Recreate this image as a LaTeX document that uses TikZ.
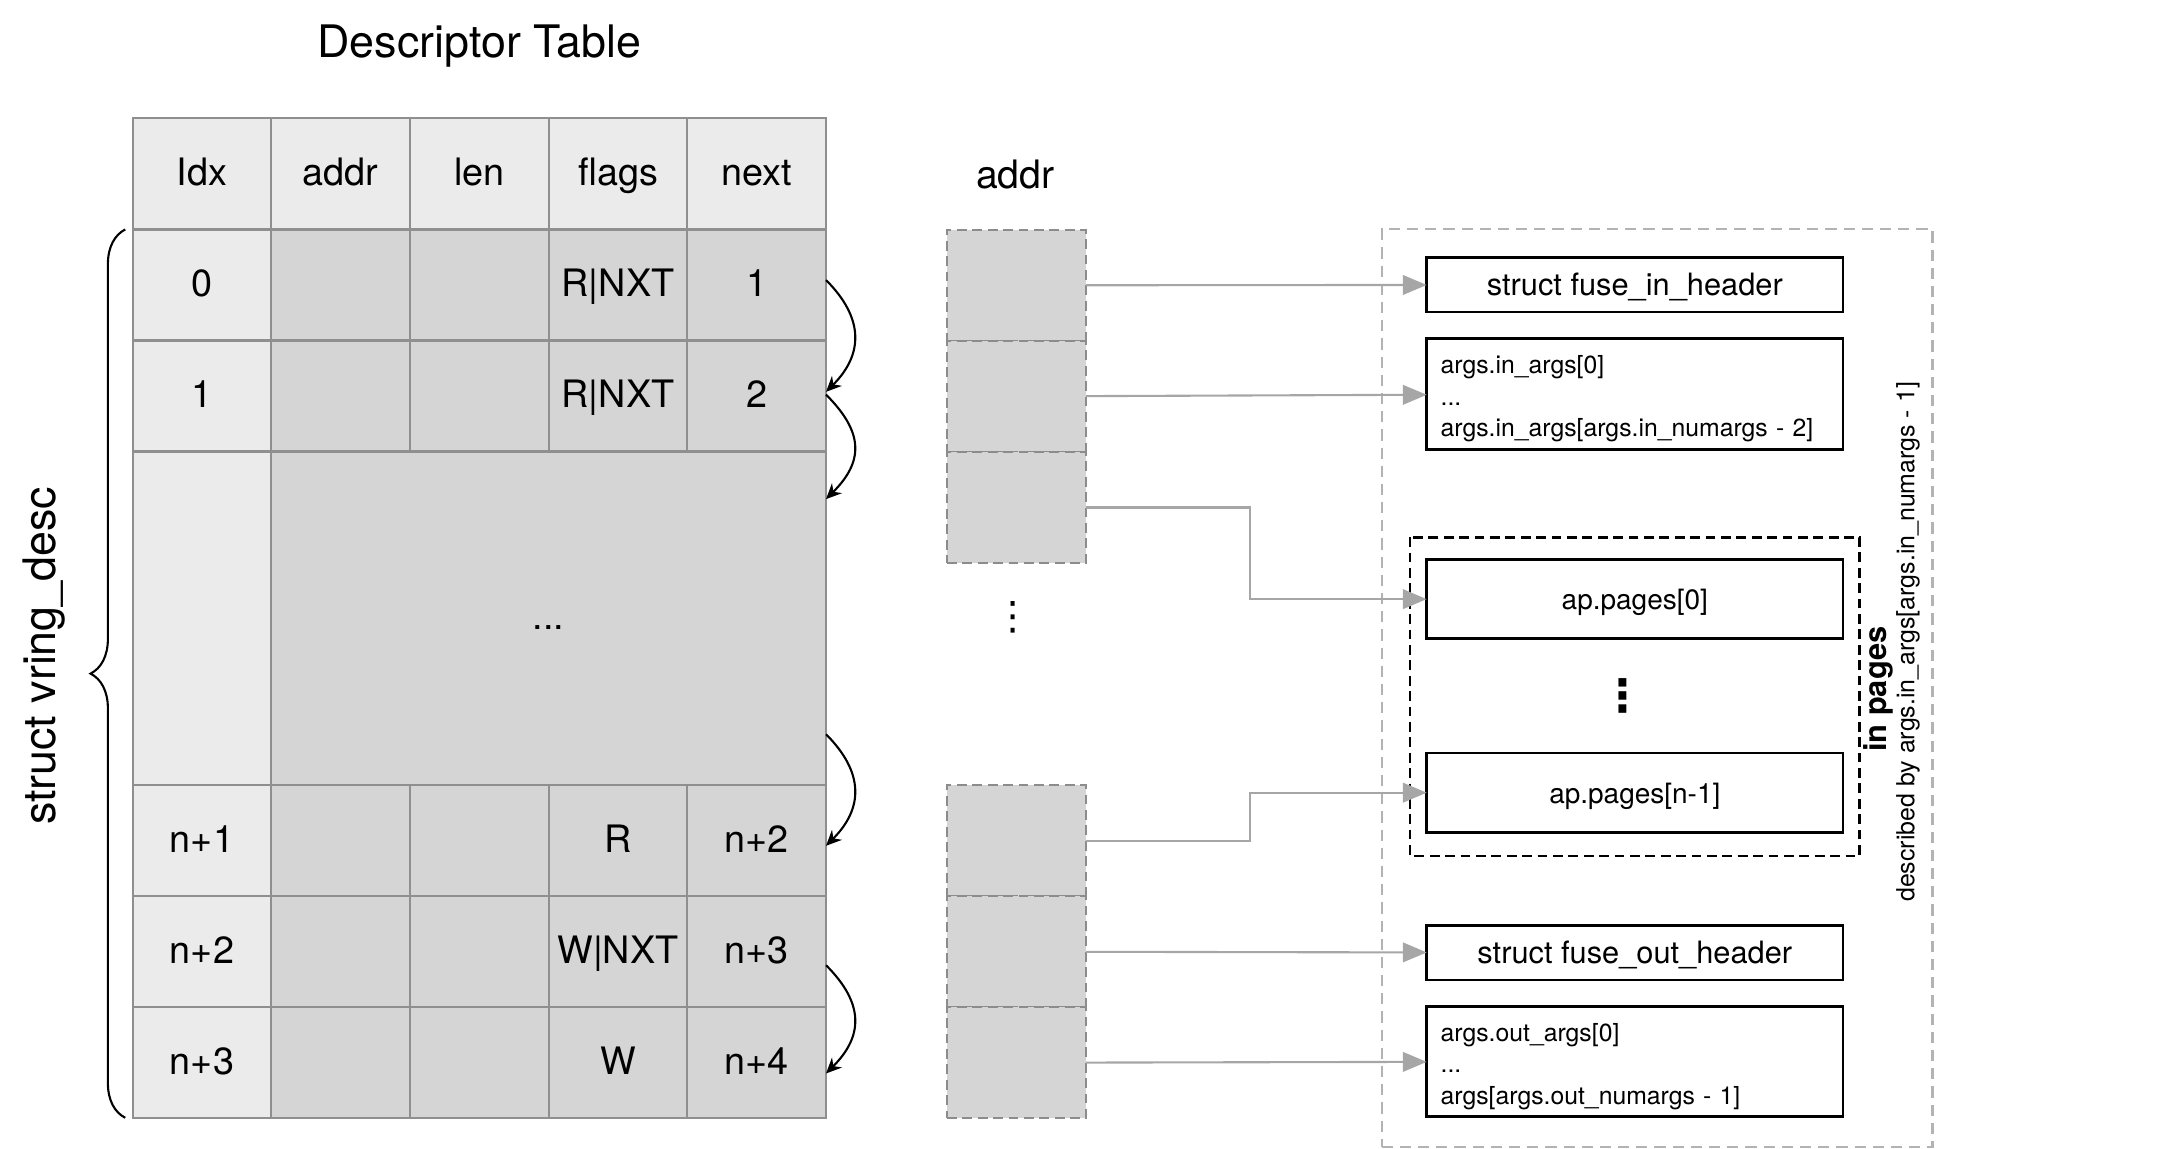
\documentclass[tikz,border=0pt]{standalone}
\usepackage{fontspec}
\setmainfont{TeX Gyre Heros}
\newfontfamily\symfont{DejaVu Sans}
\usetikzlibrary{positioning,arrows.meta,decorations.pathreplacing}
\definecolor{hdrgray}{HTML}{EBEBEB}
\definecolor{cellgray}{HTML}{D5D5D5}
\definecolor{gridgray}{HTML}{8F8F8F}
\definecolor{addrgray}{HTML}{8C8C8C}
\definecolor{ptrgray}{HTML}{A6A6A6}
\definecolor{framegray}{HTML}{B3B3B3}

\begin{document}
\begin{tikzpicture}[
    x=1pt, y=-1pt,
    node distance=0pt and 0pt,
 cell/.style = {
        draw=gridgray, line width=1.5pt, rectangle, fill=cellgray,
        minimum width=99.1pt, minimum height=79.35pt,
        inner sep=0pt, outer sep=0pt, text height=22pt, text depth=5pt,
        font=\fontsize{27}{32}\selectfont},
hdrcell/.style = {cell, fill=hdrgray},
addrcell/.style = {
        draw=addrgray, line width=1.5pt, dash pattern=on 7pt off 4pt,
        fill=cellgray, minimum width=99.4pt, minimum height=79.37pt,
        inner sep=0pt, outer sep=0pt},
 databox/.style = {
        draw, line width=2pt, rectangle, minimum width=297.5pt,
        minimum height=38.8pt, inner sep=0pt, outer sep=0pt,
        text height=19pt, text depth=4pt,
        font=\fontsize{22}{26}\selectfont},
 pagebox/.style = {databox, minimum height=56.7pt,
        font=\fontsize{20}{24}\selectfont},
  argbox/.style = {
        draw, line width=2pt, rectangle, align=left, text width=277.5pt,
        inner xsep=10pt, inner ysep=0pt, minimum height=79.4pt,
        outer sep=0pt, font=\fontsize{17.7}{22.5}\selectfont},
   dotsv/.style = {inner sep=0pt, font=\symfont\fontsize{28}{30}\selectfont},
     ptr/.style = {draw=ptrgray, line width=1.5pt,
        -{Triangle[length=17pt,width=14pt]}},
 nextarrow/.style = {line width=1.5pt, -{Stealth[length=11pt,width=10pt]}},
  vbrace/.style = {line width=1.5pt, decorate,
        decoration={brace,amplitude=24.8pt}},
 framebox/.style = {draw=framegray, line width=1.5pt,
        dash pattern=on 8pt off 5pt, minimum width=393.7pt,
        minimum height=655.7pt, inner sep=0pt},
 pagesframe/.style = {line width=2pt, dash pattern=on 7pt off 4pt}
                    ]
\useasboundingbox (0,0) rectangle (1560,821);
% the title
\node (title) at (342.5,33) [font=\fontsize{32}{38}\selectfont] {Descriptor Table};
% the table header
\node (h1) [hdrcell] at (144.35,124.3) {Idx};
\node (h2) [hdrcell,right=of h1] {addr};
\node (h3) [hdrcell,right=of h2] {len};
\node (h4) [hdrcell,right=of h3] {flags};
\node (h5) [hdrcell,right=of h4] {next};
% row 0
\node (r01) [hdrcell,below=of h1] {0};
\node (r02) [cell,right=of r01] {};
\node (r03) [cell,right=of r02] {};
\node (r04) [cell,right=of r03] {R|NXT};
\node (r05) [cell,right=of r04] {1};
% row 1
\node (r11) [hdrcell,below=of r01] {1};
\node (r12) [cell,right=of r11] {};
\node (r13) [cell,right=of r12] {};
\node (r14) [cell,right=of r13] {R|NXT};
\node (r15) [cell,right=of r14] {2};
% the gap
\node (g1) [hdrcell,below=of r11,minimum height=238.05pt] {};
\node (g2) [cell,right=of g1,minimum width=396.4pt,minimum height=238.05pt] {...};
% row n+1
\node (r41) [hdrcell,below=of g1] {n+1};
\node (r42) [cell,right=of r41] {};
\node (r43) [cell,right=of r42] {};
\node (r44) [cell,right=of r43] {R};
\node (r45) [cell,right=of r44] {n+2};
% row n+2
\node (r51) [hdrcell,below=of r41] {n+2};
\node (r52) [cell,right=of r51] {};
\node (r53) [cell,right=of r52] {};
\node (r54) [cell,right=of r53] {W|NXT};
\node (r55) [cell,right=of r54] {n+3};
% row n+3
\node (r61) [hdrcell,below=of r51] {n+3};
\node (r62) [cell,right=of r61] {};
\node (r63) [cell,right=of r62] {};
\node (r64) [cell,right=of r63] {W};
\node (r65) [cell,right=of r64] {n+4};
% the next links
\draw[nextarrow] ([yshift=3.5pt]r05.east) .. controls +(27,27) and +(27,-27) .. ([yshift=3pt]r15.east);
\draw[nextarrow] ([yshift=1pt]r15.east) .. controls +(27,27) and +(27,-27) .. ([yshift=-34pt]g2.north east);
\draw[nextarrow] ([yshift=36pt]g2.south east) .. controls +(27,27) and +(27,-27) .. ([yshift=-4pt]r45.east);
\draw[nextarrow] ([yshift=-10pt]r55.east) .. controls +(27,27) and +(27,-27) .. ([yshift=-8pt]r65.east);
% the brace on the left
\draw[vbrace] ([xshift=-5.3pt]r61.south west) -- ([xshift=-5.3pt]r01.north west);
\node (vring) [rotate=90,font=\fontsize{32}{38}\selectfont] at (31.8,468.7) {struct vring\_desc};

% the addr column
\node (addrlbl) at (725.5,124.5) [font=\fontsize{28}{32}\selectfont] {addr};
\node (m1) [addrcell] at (726.4,203.9) {};
\node (m2) [addrcell,below=of m1] {};
\node (m3) [addrcell,below=of m2] {};
\node (mdots) [dotsv] at (724,441) {⋮};
\node (m4) [addrcell] at (726.4,600.7) {};
\node (m5) [addrcell,below=of m4] {};
\node (m6) [addrcell,below=of m5] {};

% the buffers on the right
\node (inbox) [framebox] at (1184.15,491.75) {};
\node (fin)  [databox] at (1168.25,203.5) {struct fuse\_in\_header};
\node (ain)  [argbox,below=18.9pt of fin] {\rule{0pt}{20pt}args.in\_args[0]\\
                                       ...\\
                                       args.in\_args[args.in\_numargs - 2]};
\node (pg0)  [pagebox,below=78.6pt of ain] {ap.pages[0]};
\node (pgn)  [pagebox,below=81.6pt of pg0] {ap.pages[n-1]};
\node (pdots) [dotsv,font=\symfont\bfseries\fontsize{32}{34}\selectfont] at (1160,497) {⋮};
\node (fout) [databox,below=66.7pt of pgn] {struct fuse\_out\_header};
\node (aout) [argbox,below=18.9pt of fout,minimum height=78.6pt] {\rule{0pt}{20pt}args.out\_args[0]\\
                                       ...\\
                                       args[args.out\_numargs - 1]};
\draw[pagesframe] ([xshift=-11.9pt,yshift=15.9pt]pg0.north west) rectangle ([xshift=11.9pt,yshift=-16.9pt]pgn.south east);
\node (pglbl) [rotate=90,font=\bfseries\fontsize{22}{26}\selectfont] at (1342.5,492.5) {in pages};
\node (pgnote) [rotate=90,font=\fontsize{17.8}{21}\selectfont] at (1363.5,458.7) {described by args.in\_args[args.in\_numargs - 1]};

% the pointers
\draw[ptr] (m1) -- (fin);
\draw[ptr] (m2) -- (ain);
\draw[ptr] (m3.east) -- ++(117.4,0) |- (pg0.west);
\draw[ptr] (m4.east) -- ++(117.4,0) |- (pgn.west);
\draw[ptr] (m5) -- (fout);
\draw[ptr] (m6) -- (aout);
\end{tikzpicture}
\end{document}
